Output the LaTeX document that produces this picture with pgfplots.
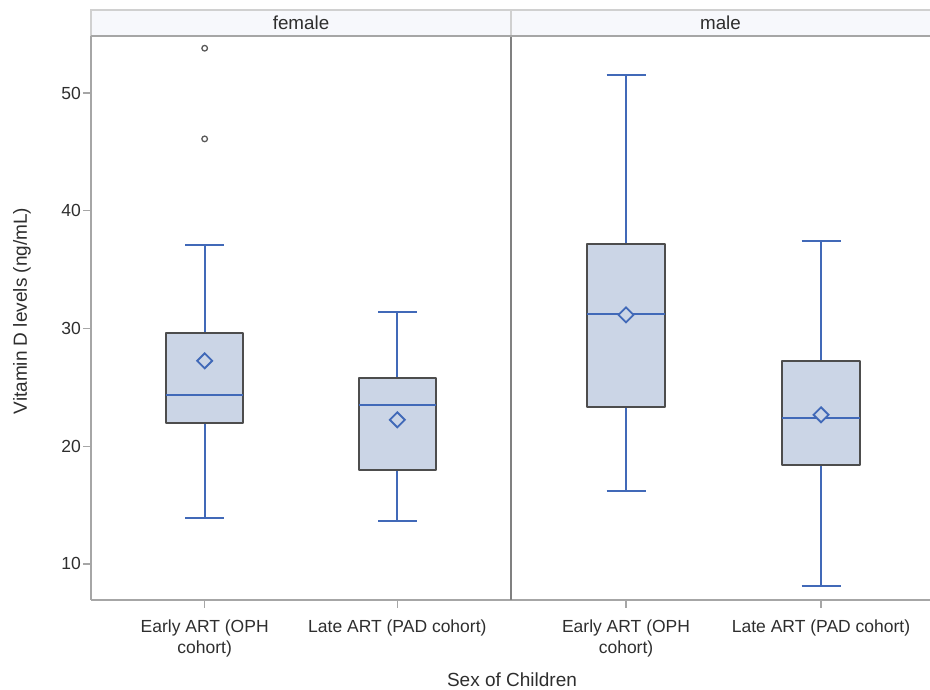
\documentclass[border=0pt]{standalone}
\usepackage{fontspec}
\setmainfont{Liberation Sans}
\usepackage{pgfplots}
\pgfplotsset{compat=1.18}
\usepgfplotslibrary{statistics}
\definecolor{vblue}{HTML}{4169B8}
\definecolor{boxfill}{HTML}{CBD5E6}
\definecolor{boxedge}{HTML}{4D4D4D}
\definecolor{axgray}{HTML}{A6A6A6}
\definecolor{divgray}{HTML}{808080}
\definecolor{hdrfill}{HTML}{F7F8FC}
\definecolor{hdrline}{HTML}{D0D0D0}
\definecolor{txt}{HTML}{2E2E2E}
\pgfdeclareplotmark{sasdia}{%
  \pgfsetlinewidth{1.8pt}%
  \pgfsetstrokecolor{vblue}%
  \pgfsetfillcolor{boxfill}%
  \pgfpathmoveto{\pgfqpoint{0pt}{\pgfplotmarksize}}%
  \pgfpathlineto{\pgfqpoint{\pgfplotmarksize}{0pt}}%
  \pgfpathlineto{\pgfqpoint{0pt}{-\pgfplotmarksize}}%
  \pgfpathlineto{\pgfqpoint{-\pgfplotmarksize}{0pt}}%
  \pgfpathclose
  \pgfusepathqfillstroke}
\pgfplotsset{
  panel/.style={
    scale only axis, width=420pt, height=564pt,
    ymin=6.94, ymax=54.84,
    axis x line*=bottom, axis y line*=left,
    axis line style={-, axgray, line width=1.6pt},
    xtick={1,2},
    xticklabels={{Early ART (OPH\\cohort)},{Late ART (PAD cohort)}},
    xticklabel style={align=center, font=\fontsize{17.5}{20.5}\selectfont, text=txt, inner sep=0pt, yshift=-12pt},
    yticklabel style={font=\fontsize{17.5}{20.5}\selectfont, text=txt, inner sep=2pt},
    /pgf/number format/assume math mode=true,
    tick align=outside, major tick length=8pt,
    tick style={axgray, line width=1.2pt},
    clip=false,
    boxplot/draw direction=y,
    boxplot/every box/.style={draw=boxedge, fill=boxfill, line width=2.2pt, line join=round},
    boxplot/every whisker/.style={draw=vblue, line width=1.8pt},
    boxplot/every median/.style={draw=vblue, line width=1.8pt},
    boxplot/every average/.style={/tikz/mark=sasdia, /tikz/mark size=7.5pt},
  },
  outl/.style={vblue, line width=1.8pt, mark=o, mark size=2.8pt, mark options={draw=black!65, line width=1.3pt}},
}
\begin{document}
\begin{tikzpicture}
\path[use as bounding box] (0,0) rectangle (930pt,690pt);
% female panel
\begin{axis}[panel, at={(91pt,90pt)}, anchor=south west,
  xmin=0.41, xmax=2.59, ytick={10,20,30,40,50}]
\addplot[outl, boxplot prepared={draw position=1, lower whisker=13.92, lower quartile=21.99,
  median=24.36, upper quartile=29.63, upper whisker=37.1, average=27.25,
  box extend=0.4, whisker extend=0.2}] coordinates {(0,53.8) (0,46.1)};
\addplot[outl, boxplot prepared={draw position=2, lower whisker=13.67, lower quartile=18.0,
  median=23.5, upper quartile=25.8, upper whisker=31.4, average=22.24,
  box extend=0.4, whisker extend=0.2}] coordinates {};
\end{axis}
% male panel
\begin{axis}[panel, at={(511pt,90pt)}, anchor=south west, width=419pt,
  xmin=0.41, xmax=2.559, ytick=\empty,
  y axis line style={divgray, line width=1.8pt}]
\addplot[outl, boxplot prepared={draw position=1, lower whisker=16.21, lower quartile=23.34,
  median=31.24, upper quartile=37.18, upper whisker=51.53, average=31.15,
  box extend=0.4, whisker extend=0.2}] coordinates {};
\addplot[outl, boxplot prepared={draw position=2, lower whisker=8.15, lower quartile=18.42,
  median=22.41, upper quartile=27.25, upper whisker=37.44, average=22.67,
  box extend=0.4, whisker extend=0.2}] coordinates {};
\end{axis}
% header strip
\fill[hdrfill] (91pt,654pt) rectangle (930pt,680pt);
\draw[hdrline, line width=1.2pt] (91pt,654pt) -- (91pt,680pt) -- (930pt,680pt);
\draw[hdrline, line width=1.2pt] (511pt,654pt) -- (511pt,680pt);
\draw[axgray, line width=1.8pt] (91pt,654pt) -- (930pt,654pt);
\node[font=\fontsize{18.8}{22}\selectfont, text=txt] at (301pt,667pt) {female};
\node[font=\fontsize{18.8}{22}\selectfont, text=txt] at (720.5pt,667pt) {male};
% axis titles
\node[rotate=90, font=\fontsize{19}{22}\selectfont, text=txt] at (22pt,379pt) {Vitamin D levels (ng/mL)};
\node[font=\fontsize{19}{22}\selectfont, text=txt] at (512pt,10pt) {Sex of Children};
\end{tikzpicture}
\end{document}
